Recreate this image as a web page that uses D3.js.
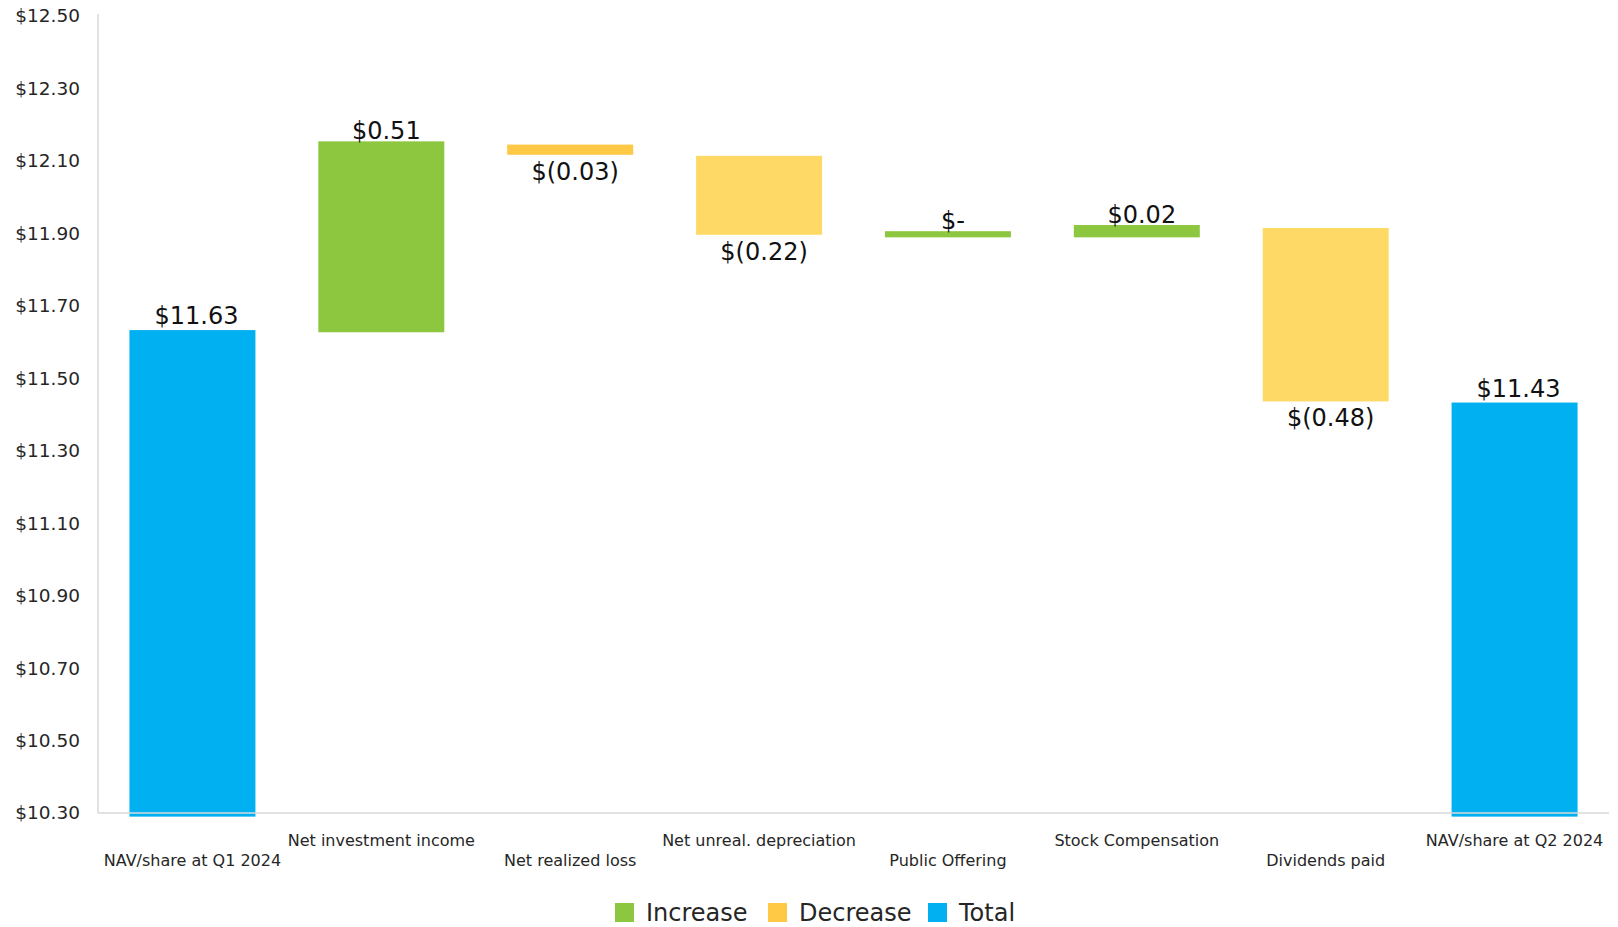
<!DOCTYPE html>
<html>
<head>
<meta charset="utf-8">
<script src="https://cdn.jsdelivr.net/npm/d3@7"></script>
<style>
  body { margin: 0; background: #fff; }
  svg text { font-family: "DejaVu Sans", Verdana, sans-serif; }
</style>
</head>
<body>
<div id="vis"></div>
<script>
// waterfall data
const categories = ["NAV/share at Q1 2024", "Net investment income", "Net realized loss",
  "Net unreal. depreciation", "Public Offering", "Stock Compensation", "Dividends paid", "NAV/share at Q2 2024"];
const kinds = ["total", "increase", "decrease", "decrease", "increase", "increase", "decrease", "total"];
const barLow = [10.29, 11.627, 12.117, 11.896, 11.889, 11.889, 11.436, 10.29];
const barHigh = [11.633, 12.154, 12.145, 12.114, 11.906, 11.923, 11.915, 11.433];
const valueLabels = ["$11.63", "$0.51", "$(0.03)", "$(0.22)", "$-", "$0.02", "$(0.48)", "$11.43"];
const yTicks = [10.30, 10.50, 10.70, 10.90, 11.10, 11.30, 11.50, 11.70, 11.90, 12.10, 12.30, 12.50];
const legendItems = ["Increase", "Decrease", "Total"];

const colors = { increase: "#8DC63F", decrease: "#FFD966", total: "#00B0F0" };
const legendColors = { Increase: "#8DC63F", Decrease: "#FFC845", Total: "#00B0F0" };

const width = 1618, height = 927;
const svg = d3.select("#vis").append("svg").attr("width", width).attr("height", height);

const x = d3.scaleBand().domain(categories).range([98, 1609]).paddingInner(0.333).paddingOuter(0.1665);
const y = d3.scaleLinear().domain([10.30, 12.50]).range([813, 16]);

// y axis labels (no ticks, no domain)
svg.append("g")
  .attr("transform", "translate(80,0)")
  .call(d3.axisLeft(y).tickValues(yTicks).tickSize(0).tickPadding(0).tickFormat(d => "$" + d.toFixed(2)))
  .call(g => g.select(".domain").remove())
  .selectAll("text")
  .attr("font-size", "18.5px")
  .attr("fill", "#262626")
  .attr("font-family", "DejaVu Sans, Verdana, sans-serif");

// bars
svg.selectAll("rect.bar")
  .data(categories)
  .enter()
  .append("rect")
  .attr("class", "bar")
  .attr("x", d => x(d))
  .attr("width", x.bandwidth())
  .attr("y", (d, i) => y(barHigh[i]))
  .attr("height", (d, i) => y(barLow[i]) - y(barHigh[i]))
  .attr("fill", (d, i) => i === 2 ? "#FFC845" : colors[kinds[i]]);

// axis lines
svg.append("line").attr("x1", 98).attr("x2", 98).attr("y1", 14).attr("y2", 813)
  .attr("stroke", "#d9d9d9").attr("stroke-width", 1.5);
svg.append("line").attr("x1", 98).attr("x2", 1609).attr("y1", 813).attr("y2", 813)
  .attr("stroke", "#d9d9d9").attr("stroke-width", 1.5);

// value labels
svg.selectAll("text.val")
  .data(categories)
  .enter()
  .append("text")
  .attr("class", "val")
  .attr("x", (d, i) => x(d) + x.bandwidth() / 2 + (kinds[i] === "total" ? 4 : 5))
  .attr("y", (d, i) => {
    if (kinds[i] === "decrease") return y(barLow[i]) + 25;
    if (kinds[i] === "total") return y(barHigh[i]) - 6;
    return y(barHigh[i]) - 2;
  })
  .attr("text-anchor", "middle")
  .attr("font-size", "24px")
  .attr("fill", "#111")
  .text((d, i) => valueLabels[i]);

// category labels, staggered
svg.selectAll("text.cat")
  .data(categories)
  .enter()
  .append("text")
  .attr("class", "cat")
  .attr("x", d => x(d) + x.bandwidth() / 2)
  .attr("y", (d, i) => i % 2 === 0 ? 866 : 846)
  .attr("text-anchor", "middle")
  .attr("font-size", "16px")
  .attr("fill", "#262626")
  .text(d => d);

// legend
const legend = svg.append("g").attr("transform", "translate(615,0)");
const offsets = [0, 153, 313];
legendItems.forEach((name, i) => {
  legend.append("rect")
    .attr("x", offsets[i]).attr("y", 903)
    .attr("width", 19).attr("height", 19)
    .attr("fill", legendColors[name]);
  legend.append("text")
    .attr("x", offsets[i] + 31).attr("y", 921)
    .attr("font-size", "24px")
    .attr("fill", "#262626")
    .text(name);
});
</script>
</body>
</html>
